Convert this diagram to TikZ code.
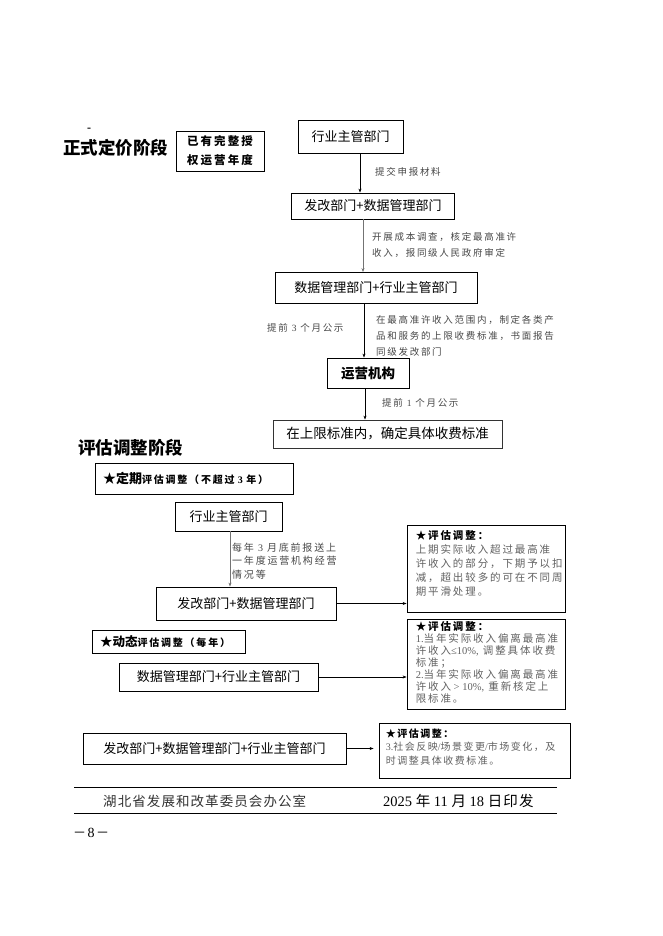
\documentclass[tikz,border=0pt]{standalone}
\usepackage{fontspec}
\setmainfont{Liberation Serif}
\newfontfamily\cjk{Noto Sans CJK SC}
\newfontfamily\cjksp[LetterSpace=18]{Noto Sans CJK SC}
\newfontfamily\cjkr[LetterSpace=15]{Noto Sans CJK SC}
\newfontfamily\cjkfoot[LetterSpace=8]{Noto Sans CJK SC}
\newcommand{\rmd}[1]{{\rmfamily #1}}
\usetikzlibrary{arrows.meta,calc}
\begin{document}
\begin{tikzpicture}[x=1pt,y=-1pt,
  box/.style={draw=black, line width=0.8pt, inner sep=0pt, font=\cjk\fontsize{13}{15}\selectfont},
  lbl/.style={inner sep=0pt, anchor=west, align=left, text=black!72, font=\cjksp\fontsize{9.5}{16}\selectfont},
  rbox/.style={draw=black, line width=0.8pt, inner sep=0pt},
  rtext/.style={inner sep=0pt, anchor=north west, align=left, text=black!62},
  phase/.style={inner sep=0pt, anchor=west, font=\cjk\bfseries\fontsize{17.5}{20}\selectfont},
  arr/.style={-{Stealth[length=4pt,width=3pt]}, line width=0.7pt},
  garr/.style={arr, draw=black!55},
  tagbox/.style={draw=black, line width=0.8pt, inner xsep=8pt, inner ysep=0pt, align=left}
]
\useasboundingbox[fill=white] (0,0) rectangle (662,936);

% ---------------- Stage 1 ----------------
\node[inner sep=0pt, font=\rmfamily\bfseries\fontsize{12}{12}\selectfont] (dash) at (89,130) {-};
\node[phase] (tit1) at (63,148) {正式定价阶段};
\node[box, minimum width=88pt, minimum height=40pt, align=center,
      font=\cjksp\bfseries\fontsize{11.5}{19}\selectfont] (n0) at (220,151) {已有完整授\\权运营年度};

\node[box, minimum width=105pt, minimum height=33pt] (a1) at (350.5,137) {行业主管部门};
\node[box, minimum width=163pt, minimum height=26pt] (a2) at (373,206) {发改部门+数据管理部门};
\node[box, minimum width=202pt, minimum height=31pt] (a3) at (376,288) {数据管理部门+行业主管部门};
\node[box, minimum width=82pt, minimum height=30pt, font=\cjk\bfseries\fontsize{13.5}{15}\selectfont] (a4) at (368,373) {运营机构};
\node[box, draw=black!80, minimum width=229pt, minimum height=28pt, font=\cjk\fontsize{13.5}{15}\selectfont] (a5) at (387.5,434) {在上限标准内，确定具体收费标准};

\draw[arr] ([xshift=9.5pt]a1.south) -- ([xshift=9.5pt]a1.south |- a2.north);
\draw[garr] ([xshift=-10pt]a2.south) -- ([xshift=-10pt]a2.south |- a3.north);
\draw[arr] ([xshift=-12pt]a3.south) -- ([xshift=-12pt]a3.south |- a4.north);
\draw[arr] ([xshift=-3pt]a4.south) -- ([xshift=-3pt]a4.south |- a5.north);

\node[lbl] (l1) at (375,172) {提交申报材料};
\node[lbl] (l2) at (372,245) {开展成本调查，核定最高准许\\收入，报同级人民政府审定};
\node[lbl] (l3) at (267,328) {提前 \rmd{3} 个月公示};
\node[lbl] (l4) at (376,336) {在最高准许收入范围内，制定各类产\\品和服务的上限收费标准，书面报告\\同级发改部门};
\node[lbl] (l5) at (382,403) {提前 \rmd{1} 个月公示};

% ---------------- Stage 2 ----------------
\node[phase] (tit2) at (78,448) {评估调整阶段};
\node[tagbox, text width=182pt, minimum height=31pt] (b0) at (194,478.5)
  {{\cjk\bfseries\fontsize{13}{15}\selectfont ★定期}{\cjksp\bfseries\fontsize{10}{15}\selectfont 评估调整（不超过 \rmd{3} 年）}};
\node[box, minimum width=107pt, minimum height=29pt] (b1) at (228.5,516.5) {行业主管部门};
\node[box, minimum width=180pt, minimum height=33pt] (b2) at (246,603.5) {发改部门+数据管理部门};
\draw[garr] ([xshift=1.5pt]b1.south) -- ([xshift=1.5pt]b1.south |- b2.north);
\node[lbl, font=\cjksp\fontsize{10}{13.5}\selectfont] (l6) at (232,561) {每年 \rmd{3} 月底前报送上\\一年度运营机构经营\\情况等};

\node[rbox, minimum width=158pt, minimum height=87pt] (r1) at (486,568.5) {};
\node[rtext, font=\cjksp\fontsize{10.5}{14}\selectfont] (r1t) at ($(r1.north west)+(9,6)$)
  {{\color{black}\bfseries ★评估调整：}\\上期实际收入超过最高准\\许收入的部分，下期予以扣\\减，超出较多的可在不同周\\期平滑处理。};
\draw[arr] (b2.east) -- (b2.east -| r1.west);

\node[tagbox, text width=137pt, minimum height=23pt] (d0) at (168.5,641.5)
  {{\cjk\bfseries\fontsize{12.5}{15}\selectfont ★动态}{\cjksp\bfseries\fontsize{10}{15}\selectfont 评估调整（每年）}};
\node[box, minimum width=199pt, minimum height=28pt] (d1) at (218.5,677) {数据管理部门+行业主管部门};

\node[rbox, minimum width=158pt, minimum height=90pt] (r2) at (486,664) {};
\node[rtext, font=\cjksp\fontsize{10.5}{12}\selectfont] (r2t) at ($(r2.north west)+(9,3)$)
  {{\color{black}\bfseries ★评估调整：}\\\rmd{1.}当年实际收入偏离最高准\\许收入\rmd{≤10\%,} 调整具体收费\\标准；\\\rmd{2.}当年实际收入偏离最高准\\许收入\rmd{ > 10\%,} 重新核定上\\限标准。};
\draw[arr] (d1.east) -- (d1.east -| r2.west);

\node[box, minimum width=263pt, minimum height=31pt] (e0) at (214.5,748.5) {发改部门+数据管理部门+行业主管部门};
\node[rbox, minimum width=191pt, minimum height=55pt] (r3) at (474.5,750.5) {};
\node[rtext, font=\cjkr\fontsize{10}{13.5}\selectfont] (r3t) at ($(r3.north west)+(7,6)$)
  {{\color{black}\bfseries ★评估调整：}\\\rmd{3.}社会反映\rmd{/}场景变更\rmd{/}市场变化，及\\时调整具体收费标准。};
\draw[arr, shorten >=5pt] (e0.east) -- (e0.east -| r3.west);

% ---------------- Footer ----------------
\draw[line width=0.8pt] (74,787) -- (557,787);
\draw[line width=0.8pt] (74,813) -- (557,813);
\node[inner sep=0pt, anchor=west, font=\cjkfoot\fontsize{13.5}{15}\selectfont, text=black!80] (f1) at (103,801) {湖北省发展和改革委员会办公室};
\node[inner sep=0pt, anchor=west, font=\rmfamily\fontsize{14.5}{16}\selectfont] (f2) at (383,801)
  {2025 {\cjkfoot 年} 11 {\cjkfoot 月} 18 {\cjkfoot 日印发}};
\node[inner sep=0pt, anchor=west, font=\rmfamily\fontsize{14}{16}\selectfont] (f3) at (73,833) {{\cjk\fontsize{13}{16}\selectfont －}\hspace{1.5pt}8\hspace{1.5pt}{\cjk\fontsize{13}{16}\selectfont －}};
\end{tikzpicture}
\end{document}
